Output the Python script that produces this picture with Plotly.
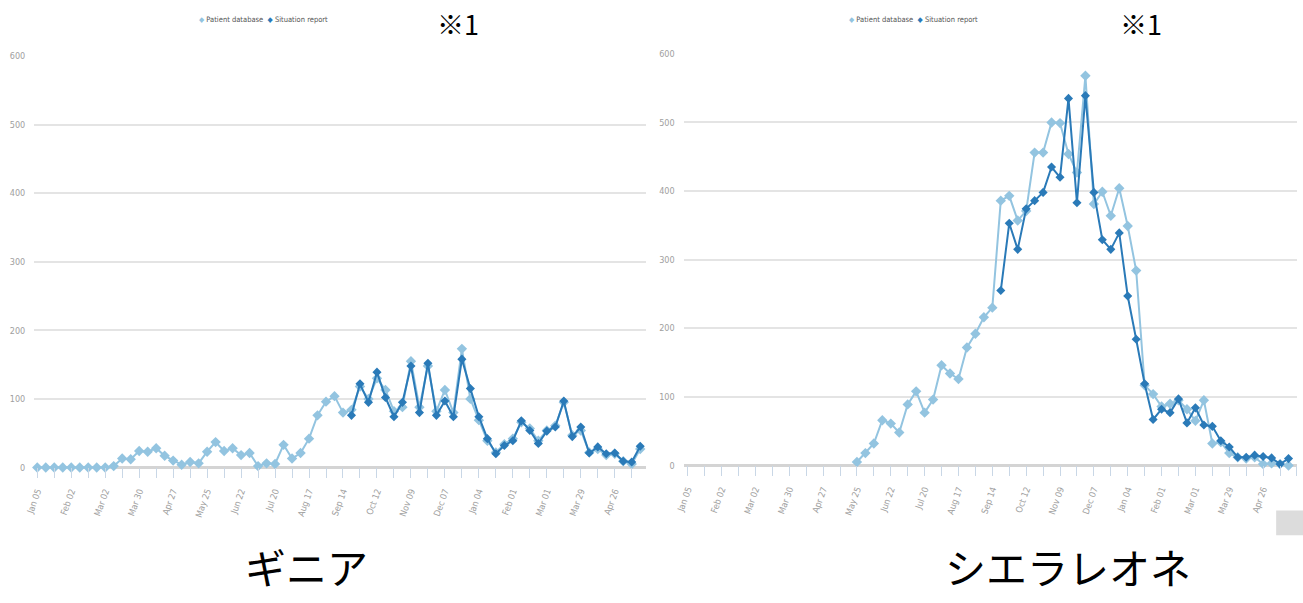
import pandas as pd
import plotly.graph_objects as go

# ---------------- data ----------------
weeks = pd.date_range("2014-01-05", periods=72, freq="7D")

guinea_patient = [0, 0, 0, 0, 0, 0, 0, 0, 0, 2,
                  13, 12, 24, 23, 28, 17, 10, 4, 8, 6,
                  23, 37, 24, 28, 18, 21, 2, 6, 5, 33,
                  13, 21, 42, 76, 96, 104, 80, 84, 118, 100,
                  130, 113, 82, 88, 155, 88, 148, 82, 113, 80,
                  173, 100, 69, 39, 22, 34, 42, 66, 57, 39,
                  54, 61, 95, 47, 54, 22, 27, 18, 20, 9,
                  5, 27]
guinea_situation = [None] * 37 + [76, 122, 95, 139, 102, 74, 95, 148, 80, 152,
                                  76, 97, 74, 158, 115, 74, 42, 20, 32, 39,
                                  68, 54, 35, 53, 59, 97, 45, 59, 21, 30,
                                  20, 21, 9, 8, 31]

sl_patient = [None] * 20 + [5, 18, 32, 66, 61, 48, 89, 108, 77, 96,
                            146, 134, 126, 172, 192, 216, 230, 386, 393, 357,
                            371, 456, 456, 500, 499, 454, 427, 568, 381, 399,
                            364, 404, 349, 284, 117, 104, 86, 90, 95, 82,
                            65, 95, 32, 34, 18, 12, 10, 12, 2, 3,
                            2, 0]
sl_situation = [None] * 37 + [255, 353, 315, 374, 386, 398, 435, 420, 535, 383,
                              539, 398, 329, 315, 339, 247, 184, 119, 67, 82,
                              77, 97, 62, 84, 59, 57, 36, 27, 12, 12,
                              15, 13, 11, 2, 10]

series_names = ["Patient database", "Situation report"]
panel_titles = ["ギニア", "シエラレオネ"]
note_text = "※1"
y_ticks = [0, 100, 200, 300, 400, 500, 600]

# ---------------- style ----------------
W, H = 1303, 603
LIGHT = "#93c4e0"
DARK = "#2a7ab8"
NARROW = "Liberation Sans Narrow, DejaVu Sans Condensed, Arial Narrow, sans-serif"
CJK = "Noto Sans CJK JP"

# compensation for the page offset/scale seen in the rendered screenshot
SX, OX = 0.994, 7.7
SY, OY = 0.985, 3.8


def cx(x):
    return (x - OX) / SX


def cy(y):
    return (y - OY) / SY


def px(x):
    return cx(x) / W


def py(y):
    return 1 - cy(y) / H


WEEK = pd.Timedelta(days=7)
t0 = weeks[0]

fig = go.Figure()

panels = [
    dict(pat=guinea_patient, sit=guinea_situation, xa="x", ya="y",
         x0=33, x1=645, xjan=36, pxw=8.5, ytop=55, ybot=467),
    dict(pat=sl_patient, sit=sl_situation, xa="x2", ya="y2",
         x0=683, x1=1297, xjan=687, pxw=8.47, ytop=52.7, ybot=465),
]

for p in panels:
    fig.add_trace(go.Scatter(
        x=weeks, y=p["pat"], name=series_names[0], mode="lines+markers",
        xaxis=p["xa"], yaxis=p["ya"], connectgaps=False, cliponaxis=False,
        line=dict(color=LIGHT, width=2),
        marker=dict(symbol="diamond", size=8, color=LIGHT),
        showlegend=False))
    fig.add_trace(go.Scatter(
        x=weeks, y=p["sit"], name=series_names[1], mode="lines+markers",
        xaxis=p["xa"], yaxis=p["ya"], connectgaps=False, cliponaxis=False,
        line=dict(color=DARK, width=2),
        marker=dict(symbol="diamond", size=7, color=DARK),
        showlegend=False))

axis_common_x = dict(
    type="date", tickformat="%b %d", tick0="2014-01-05",
    dtick=28 * 86400000, ticks="outside", ticklen=10, tickwidth=1,
    tickcolor="#c9d7e6", tickangle=-70,
    tickfont=dict(family=NARROW, size=9, color="#a0a0a0"),
    showgrid=False, zeroline=False, showline=False,
    ticklabelstandoff=4,
    minor=dict(dtick=14 * 86400000, tick0="2014-01-05", ticks="outside",
               ticklen=10, tickwidth=1, tickcolor="#c9d7e6", showgrid=False),
)
axis_common_y = dict(
    range=[0, 600], tickvals=y_ticks, showgrid=True, gridcolor="#e4e4e4",
    gridwidth=2, zeroline=True, zerolinecolor="#d4d4d4", zerolinewidth=3,
    showline=False, ticks="", ticklabelstandoff=8,
    tickfont=dict(family=NARROW, size=9, color="#a0a0a0"),
)

for i, p in enumerate(panels):
    d0, d1 = cx(p["x0"]), cx(p["x1"])
    jan = cx(p["xjan"])
    wk = p["pxw"] / SX
    start = t0 - WEEK * ((jan - d0) / wk)
    end = t0 + WEEK * ((d1 - jan) / wk)
    xa = dict(axis_common_x, domain=[px(p["x0"]), px(p["x1"])],
              range=[start, end], anchor=p["ya"])
    ya = dict(axis_common_y, domain=[py(p["ybot"]), py(p["ytop"])],
              anchor=p["xa"])
    if i == 0:
        fig.update_layout(xaxis=xa, yaxis=ya)
    else:
        fig.update_layout(xaxis2=xa, yaxis2=ya)

annotations = []
legend_centers = [262, 913]
note_x = [457, 1141]
title_x = [305, 1068]
for i in range(2):
    annotations.append(dict(
        x=px(legend_centers[i]), y=py(18), xref="paper", yref="paper",
        showarrow=False, xanchor="center", yanchor="middle",
        text=(f"<span style='color:{LIGHT}'>◆</span> {series_names[0]}  "
              f"<span style='color:{DARK}'>◆</span> {series_names[1]}"),
        font=dict(family=NARROW, size=7.5, color="#555555")))
    annotations.append(dict(
        x=px(note_x[i]), y=py(22), xref="paper", yref="paper",
        showarrow=False, xanchor="center", yanchor="middle",
        text=note_text, font=dict(family=CJK, size=27, color="#000000")))
    annotations.append(dict(
        x=px(title_x[i]), y=0, xref="paper", yref="paper",
        showarrow=False, xanchor="center", yanchor="bottom",
        text=panel_titles[i], font=dict(family=CJK, size=41, color="#000000")))

fig.update_layout(
    width=W, height=H, margin=dict(l=0, r=0, t=0, b=0),
    paper_bgcolor="white", plot_bgcolor="white",
    annotations=annotations,
    shapes=[dict(type="rect", xref="paper", yref="paper",
                 x0=px(1276), x1=px(1303) + 0.01, y0=py(535), y1=py(510),
                 fillcolor="#dcdcdc", line=dict(width=0), layer="below")],
)

fig.write_html(
    "out.html",
    config={"displayModeBar": False},
    post_script="document.body.style.margin='0px';"
                "document.body.style.padding='0px';"
                "document.body.style.overflow='hidden';",
)
